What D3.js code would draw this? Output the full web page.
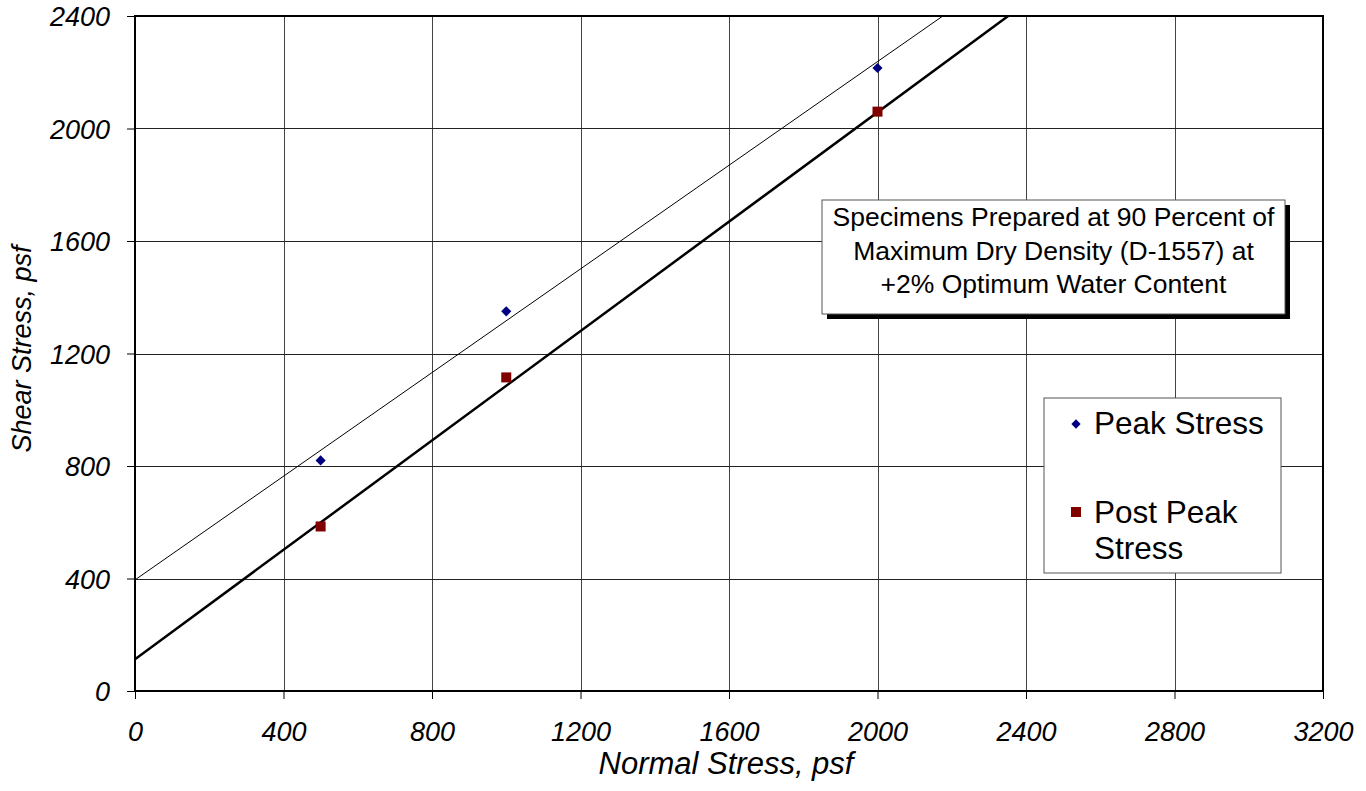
<!DOCTYPE html>
<html>
<head>
<meta charset="utf-8">
<script src="https://cdn.jsdelivr.net/npm/d3@7"></script>
<style>
  body { margin: 0; background: #fff; }
  svg, svg text { font-family: "Liberation Sans", Arial, sans-serif; }
</style>
</head>
<body>
<div id="chart"></div>
<script>
// data
const normalStress = [500, 1000, 2000];
const peakStress = [820, 1350, 2215];
const postPeakStress = [585, 1115, 2060];
// fitted lines: [normal, shear] end points
const peakFit = [[0, 395], [2176, 2400]];
const postPeakFit = [[0, 113], [2352, 2400]];
const xTicks = [0, 400, 800, 1200, 1600, 2000, 2400, 2800, 3200];
const yTicks = [0, 400, 800, 1200, 1600, 2000, 2400];
const noteLines = ['Specimens Prepared at 90 Percent of', 'Maximum Dry Density (D-1557) at', '+2% Optimum Water Content'];

const margin = { top: 16, right: 43, bottom: 100, left: 135 };
const W = 1366, H = 791;
const width = W - margin.left - margin.right;
const height = H - margin.top - margin.bottom;

const svg = d3.select('#chart').append('svg')
  .attr('width', W).attr('height', H);
const g = svg.append('g')
  .attr('transform', `translate(${margin.left},${margin.top})`);

const x = d3.scaleLinear().domain([0, 3200]).range([0, width]);
const y = d3.scaleLinear().domain([0, 2400]).range([height, 0]);

// grid
g.append('g').selectAll('line').data(xTicks.slice(1, -1)).enter().append('line')
  .attr('x1', d => Math.round(x(d)) + 0.5).attr('x2', d => Math.round(x(d)) + 0.5)
  .attr('y1', 0).attr('y2', height)
  .attr('stroke', '#444').attr('stroke-width', 1);
g.append('g').selectAll('line').data(yTicks.slice(1, -1)).enter().append('line')
  .attr('y1', d => Math.round(y(d)) + 0.5).attr('y2', d => Math.round(y(d)) + 0.5)
  .attr('x1', 0).attr('x2', width)
  .attr('stroke', '#222').attr('stroke-width', 1);

// axes
const fmt = d3.format('d');
const xAxis = g.append('g').attr('transform', `translate(0,${height})`)
  .call(d3.axisBottom(x).tickValues(xTicks).tickFormat(fmt).tickSize(8).tickPadding(23));
const yAxis = g.append('g')
  .call(d3.axisLeft(y).tickValues(yTicks).tickFormat(fmt).tickSize(8).tickPadding(17));
[xAxis, yAxis].forEach(a => {
  a.attr('font-family', null).attr('font-size', null);
  a.select('.domain').remove();
  a.selectAll('line').attr('stroke', '#000');
  a.selectAll('text').style('font-size', '27px').style('font-style', 'italic').attr('fill', '#000');
});
yAxis.selectAll('text').attr('dy', '0.36em');

// frame
g.append('rect').attr('x', 0).attr('y', 0).attr('width', width).attr('height', height)
  .attr('fill', 'none').attr('stroke', '#000').attr('stroke-width', 2);

// clip for fit lines
svg.append('clipPath').attr('id', 'clip').append('rect')
  .attr('width', width).attr('height', height);
const line = d3.line().x(d => x(d[0])).y(d => y(d[1]));
const plot = g.append('g').attr('clip-path', 'url(#clip)');
plot.append('path').datum(peakFit).attr('d', line)
  .attr('fill', 'none').attr('stroke', '#000').attr('stroke-width', 1);
plot.append('path').datum(postPeakFit).attr('d', line)
  .attr('fill', 'none').attr('stroke', '#000').attr('stroke-width', 2.5);

// points
const peakData = normalStress.map((n, i) => [n, peakStress[i]]);
const postData = normalStress.map((n, i) => [n, postPeakStress[i]]);
g.selectAll('.peak').data(peakData).enter().append('path')
  .attr('class', 'peak')
  .attr('transform', d => `translate(${x(d[0])},${y(d[1])})`)
  .attr('d', d3.symbol().type(d3.symbolDiamond2).size(66))
  .attr('fill', '#000080');
g.selectAll('.post').data(postData).enter().append('rect')
  .attr('class', 'post')
  .attr('x', d => x(d[0]) - 5).attr('y', d => y(d[1]) - 5)
  .attr('width', 10).attr('height', 10)
  .attr('fill', '#800000');

// axis titles
svg.append('text').attr('x', 726).attr('y', 774)
  .attr('text-anchor', 'middle').style('font-size', '31px').style('font-style', 'italic')
  .text('Normal Stress, psf');
svg.append('text').attr('transform', `translate(31,349) rotate(-90)`)
  .attr('text-anchor', 'middle').style('font-size', '27px').style('font-style', 'italic')
  .text('Shear Stress, psf');

// note box with shadow
const nb = { x: 822, y: 200, w: 463, h: 114 };
svg.append('rect').attr('x', nb.x + 5).attr('y', nb.y + 5).attr('width', nb.w).attr('height', nb.h)
  .attr('fill', '#000');
svg.append('rect').attr('x', nb.x).attr('y', nb.y).attr('width', nb.w).attr('height', nb.h)
  .attr('fill', '#fff').attr('stroke', '#555').attr('stroke-width', 1);
svg.append('g').selectAll('text').data(noteLines).enter().append('text')
  .attr('x', nb.x + nb.w / 2).attr('y', (d, i) => 226 + i * 33.5)
  .attr('text-anchor', 'middle').style('font-size', '26.5px').text(d => d);

// legend
const lg = { x: 1044, y: 398, w: 237, h: 175 };
svg.append('rect').attr('x', lg.x).attr('y', lg.y).attr('width', lg.w).attr('height', lg.h)
  .attr('fill', '#fff').attr('stroke', '#555').attr('stroke-width', 1);
svg.append('path').attr('transform', 'translate(1076,424)')
  .attr('d', d3.symbol().type(d3.symbolDiamond2).size(55)).attr('fill', '#000080');
svg.append('rect').attr('x', 1071).attr('y', 507).attr('width', 10).attr('height', 10).attr('fill', '#800000');
svg.append('text').attr('x', 1094).attr('y', 434).style('font-size', '31.5px').text('Peak Stress');
svg.append('text').attr('x', 1094).attr('y', 523).style('font-size', '31.5px').text('Post Peak');
svg.append('text').attr('x', 1094).attr('y', 559).style('font-size', '31.5px').text('Stress');
</script>
</body>
</html>
